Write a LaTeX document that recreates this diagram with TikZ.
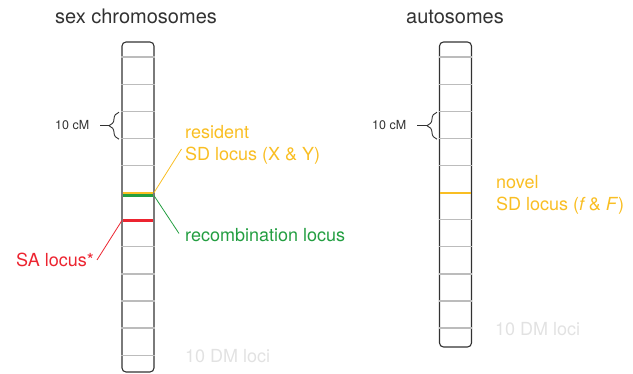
\documentclass[tikz,border=0pt]{standalone}
\usepackage{fontspec}
\setmainfont{TeX Gyre Heros}
\usetikzlibrary{decorations.pathreplacing,positioning}
\definecolor{sdgold}{RGB}{249,190,35}
\definecolor{recgreen}{RGB}{35,158,65}
\definecolor{sared}{RGB}{236,36,48}
\definecolor{tickgray}{RGB}{188,188,188}
\definecolor{dmgray}{RGB}{226,226,226}
\definecolor{ink}{RGB}{50,50,50}
\tikzset{%
    chromosome/.style = {
        rectangle, rounded corners=4pt, draw=ink, line width=1.1pt,
        minimum width=32pt, inner sep=0pt
    },
    heading/.style = {anchor=base west, inner sep=0pt, text=ink,
        font=\fontsize{20}{24}\selectfont},
    tag/.style = {anchor=base west, inner sep=0pt, align=left,
        font=\fontsize{18}{22}\selectfont},
    cmtext/.style = {anchor=base west, inner sep=0pt, text=ink,
        font=\fontsize{12.5}{15}\selectfont},
    locus/.style = {draw=tickgray, line width=1.3pt},
    marker/.style = {line width=2.3pt},
    pointer/.style = {line width=0.8pt},
    cmbrace/.style = {draw=ink, line width=0.9pt, decorate,
        decoration={brace, amplitude=10pt}},
}

\begin{document}
\begin{tikzpicture}[x=1pt, y=-1pt]
    \useasboundingbox (0,0) rectangle (633,374);

    % Chromosomes
    \node (sexchr)  [chromosome, minimum height=330pt] at (138,207) {};
    \node (autochr) [chromosome, minimum height=305pt] at (455.5,194.5) {};

    % Loci: 10 cM apart, coloured ones replace the grey
    \foreach \k in {0,...,11} {
        \ifnum\k=5 \else\ifnum\k=6 \else
        \draw[locus] ([yshift={-15.7-27.1*\k}]sexchr.north west)
                  -- ([yshift={-15.7-27.1*\k}]sexchr.north east);
        \fi\fi
    }
    \foreach \k in {0,...,10} {
        \ifnum\k=5 \else
        \draw[locus] ([yshift={-15.7-27.1*\k}]autochr.north west)
                  -- ([yshift={-15.7-27.1*\k}]autochr.north east);
        \fi
    }
    \draw[marker, sdgold]   (122.6,192.7) -- (153.4,192.7);
    \draw[marker, recgreen] (122.6,195.6) -- (153.4,195.6);
    \draw[marker, sared]    (122.6,220.4) -- (153.4,220.4);
    \draw[marker, sdgold]   (440.1,193.2) -- (470.9,193.2);

    % Titles
    \node (sextitle)  [heading] at (55,23.3)  {sex chromosomes};
    \node (autotitle) [heading] at (406,23.3) {autosomes};

    % Labels (base sits on the last line)
    \node (resident) [tag, text=sdgold] at (185,160.7)
                        {resident\\SD locus (X \& Y)};
    \node (recomb)   [tag, text=recgreen] at (185,241.7)
                        {recombination locus};
    \node (salocus)  [tag, text=sared] at (16,266.7)
                        {SA locus*};
    \node (novel)    [tag, text=sdgold] at (496,210.7)
                        {novel\\SD locus (\textit{f}\,\& \textit{F})};
    \node (dmsex)    [tag, text=dmgray] at (185,362.7) {10 DM loci};
    \node (dmauto)   [tag, text=dmgray] at (495,336)   {10 DM loci};

    % Pointers from the loci to their labels
    \coordinate (sdstart)  at (154,192.7);
    \coordinate (sdend)    at (181.5,149);
    \coordinate (recstart) at (154,195.6);
    \coordinate (recend)   at (179,233.5);
    \coordinate (sastart)  at (122,220.4);
    \coordinate (saend)    at (97,260);
    \draw[pointer, sdgold]   (sdstart)  -- (sdend);
    \draw[pointer, recgreen] (recstart) -- (recend);
    \draw[pointer, sared]    (sastart)  -- (saend);

    % 10 cM scale
    \node (cmsex)  [cmtext] at (55,129.5)  {10 cM};
    \node (cmauto) [cmtext] at (372,130)   {10 cM};
    \draw[cmbrace] (119,139.2) -- (119,112.2);
    \draw[cmbrace] (437,139.2) -- (437,112.2);
    \draw[ink, line width=0.9pt] (109,125.7) -- (100,125.7);
    \draw[ink, line width=0.9pt] (427,125.7) -- (417,125.7);
\end{tikzpicture}
\end{document}
